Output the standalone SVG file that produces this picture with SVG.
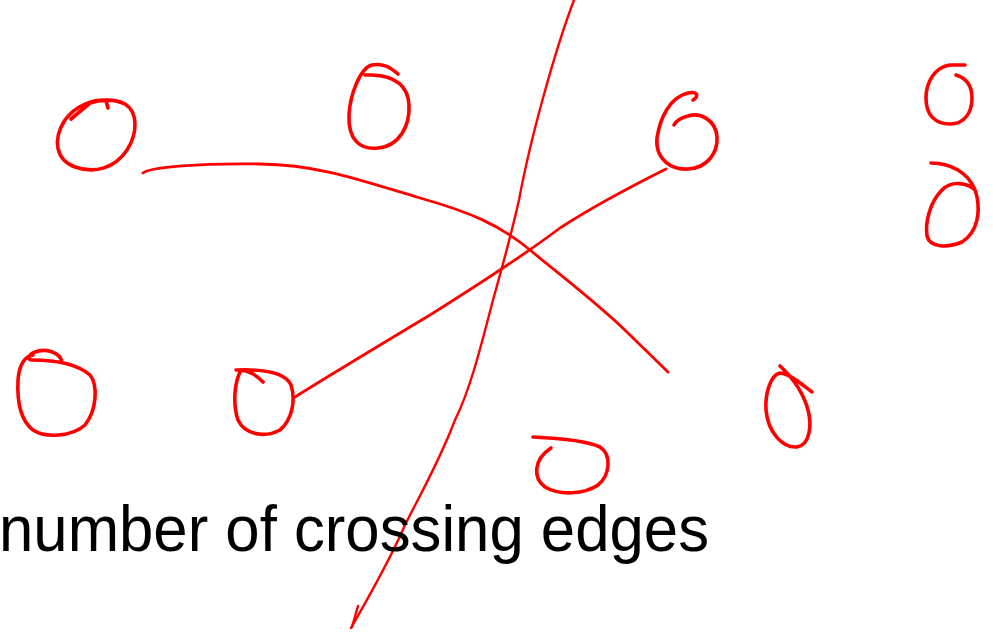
<svg xmlns="http://www.w3.org/2000/svg" width="993" height="634" viewBox="0 0 993 634">
<style>
.ink{fill:none;stroke:#ff0000;stroke-linecap:round;stroke-linejoin:round}
.node{stroke-width:3.6}
.edge{stroke-width:2.8}
.cut{stroke-width:2.4}
.lbl{font-family:"Liberation Sans",Arial,sans-serif;font-size:65px;fill:#000}
</style>
<rect width="993" height="634" fill="#fff"/>
<g id="n1"><path class="ink node" d="M108,108 L106,101 C95,98 75,106 65,120 C52,140 56,160 75,167 C95,174 115,168 127,150 C138,133 138,112 125,104 C115,99 100,99 90,103 L71,119"/></g>
<g id="n2"><path class="ink node" d="M398,74 C390,67 383,63 372,65 C360,68 350,95 349,115 C348,140 360,150 378,148 C400,146 410,125 409,105 C408,85 395,76 372,75 L365,75"/></g>
<g id="n3"><path class="ink node" d="M693,100 C700,96 697,91 688,93 C670,97 660,118 657,138 C655,160 672,170 688,169 C708,168 718,152 717,137 C716,120 700,112 688,116 C680,118 676,121 674,125"/></g>
<g id="n4"><path class="ink node" d="M965,65 L950,65 C935,67 926,82 926,98 C926,115 935,124 950,124 C965,124 972,112 972,98 C972,86 966,78 956,75"/></g>
<g id="n5"><path class="ink node" d="M931,163 C950,163 968,172 975,190 C968,183 952,180 942,190 C930,202 925,222 927,236 C930,248 948,248 962,242 C978,232 980,212 977,197 C976,192 975,190 975,190"/></g>
<g id="n6"><path class="ink node" d="M62,362 C60,352 45,348 35,352 C28,355 27,360 32,360 C50,360 75,362 90,375 C98,385 97,410 85,425 C72,437 45,438 33,430 C20,420 17,400 18,380 C19,365 25,356 33,355"/></g>
<g id="n7"><path class="ink node" d="M263,382 C256,375 250,371 240,370 L236,370 C262,369 285,372 291,385 C296,400 292,420 280,430 C265,438 245,435 238,420 C233,405 234,385 240,372"/></g>
<g id="n8"><path class="ink node" d="M533,437 C555,438 585,440 600,447 C612,455 610,475 598,485 C585,494 560,496 545,487 C533,478 533,460 551,448"/></g>
<g id="n9"><path class="ink node" d="M812,392 C800,383 790,374 780,373 C770,375 765,395 766,410 C768,432 782,448 797,447 C810,445 812,425 808,410 C804,395 795,380 780,366"/></g>
<g id="edges">
<path class="ink edge" d="M143,173 C150,167 200,163 260,164 C320,165 360,180 420,198 C470,212 500,225 530,250 C560,275 600,305 630,335 L668,372"/>
<path class="ink edge" d="M295,397 C330,375 380,345 430,315 C470,290 520,258 560,228 C600,202 640,182 666,169"/>
<path class="ink cut" d="M574,0 C555,50 530,140 519,200 C510,240 500,275 493,300 C480,350 470,390 455,420 C440,460 420,495 405,525 C390,560 370,595 351,628"/>
<path class="ink cut" d="M358,606 L352,627"/>
</g>
<text class="lbl" x="-1" y="551" textLength="710" lengthAdjust="spacingAndGlyphs">number of crossing edges</text>
</svg>
